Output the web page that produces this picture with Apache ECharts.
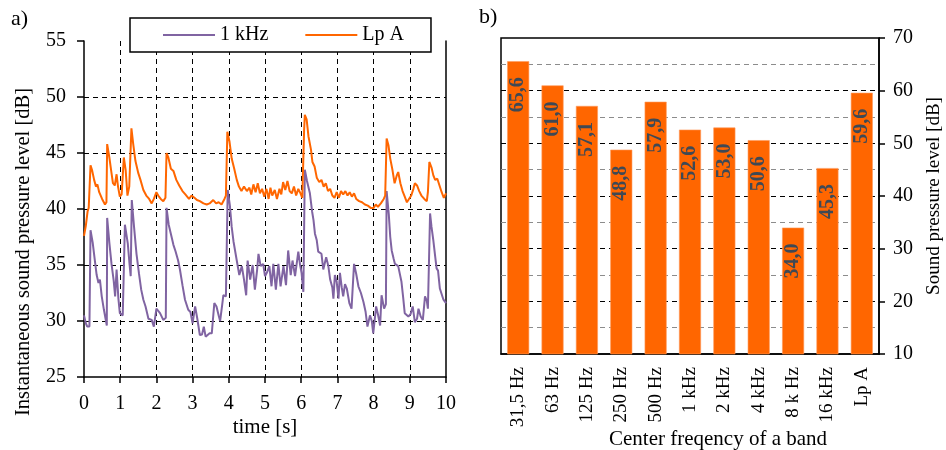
<!DOCTYPE html>
<html>
<head>
<meta charset="utf-8">
<script src="https://cdn.jsdelivr.net/npm/echarts@6/dist/echarts.min.js"></script>
<style>
  html, body { margin: 0; padding: 0; background: #fff; }
  #chart { width: 946px; height: 450px; }
</style>
</head>
<body>
<div id="chart"></div>
<script>
// a) instantaneous levels over 10 s: [time s, level dB]
const lpA = [
  [0,37.6],[0.05,38.5],[0.1,39.8],[0.13,40.1],[0.18,43.9],[0.22,43.5],[0.28,42.6],[0.33,42.0],[0.37,42.2],[0.42,41.5],
  [0.5,40.9],[0.58,40.4],[0.62,40.6],[0.64,45.8],[0.7,44.6],[0.76,43.2],[0.8,42.3],[0.85,42.1],[0.9,43.1],[0.94,42.0],
  [0.99,41.1],[1.04,41.3],[1.1,44.6],[1.15,43.5],[1.2,41.2],[1.25,42.0],[1.31,47.2],[1.36,45.8],[1.42,44.3],[1.5,43.2],
  [1.56,42.6],[1.64,41.7],[1.72,41.2],[1.8,40.9],[1.87,40.5],[1.93,40.9],[2.0,41.5],[2.05,41.2],[2.12,40.9],[2.19,40.7],
  [2.25,41.0],[2.28,45.0],[2.33,44.6],[2.4,43.6],[2.47,43.4],[2.55,42.6],[2.63,42.1],[2.72,41.6],[2.8,41.3],[2.9,40.9],
  [2.97,41.2],[3.05,41.0],[3.12,40.8],[3.2,40.7],[3.3,40.5],[3.39,40.4],[3.47,40.5],[3.57,40.8],[3.65,40.5],[3.72,40.6],
  [3.8,40.4],[3.88,40.9],[3.92,41.2],[3.96,46.9],[4.02,46.0],[4.08,44.5],[4.15,43.6],[4.22,42.6],[4.28,42.0],[4.35,41.6],
  [4.42,42.0],[4.5,41.6],[4.57,41.9],[4.62,41.3],[4.68,42.2],[4.74,41.5],[4.8,42.3],[4.86,41.4],[4.92,41.8],[4.98,41.1],
  [5.04,41.8],[5.1,40.9],[5.15,41.9],[5.2,41.2],[5.27,41.7],[5.33,40.9],[5.4,41.8],[5.45,41.3],[5.5,42.4],[5.56,41.7],
  [5.62,42.5],[5.68,41.6],[5.74,41.4],[5.8,42.0],[5.86,41.2],[5.92,41.8],[5.98,41.4],[6.03,41.0],[6.08,47.0],[6.1,48.4],
  [6.15,48.0],[6.2,46.5],[6.27,45.3],[6.31,44.2],[6.37,43.8],[6.43,42.8],[6.5,42.4],[6.56,42.6],[6.62,42.0],[6.68,42.3],
  [6.74,41.6],[6.8,41.8],[6.86,41.2],[6.92,41.0],[6.98,41.5],[7.04,41.0],[7.1,41.6],[7.16,41.3],[7.22,41.6],[7.28,41.2],
  [7.34,41.5],[7.4,41.1],[7.46,41.4],[7.52,40.9],[7.6,40.7],[7.68,40.6],[7.76,40.4],[7.84,40.3],[7.92,40.1],[8.0,40.1],
  [8.06,40.4],[8.12,40.2],[8.2,40.5],[8.28,40.9],[8.32,41.2],[8.36,46.3],[8.41,45.7],[8.46,44.5],[8.52,43.5],[8.58,42.3],
  [8.64,43.0],[8.68,43.3],[8.74,42.3],[8.8,41.6],[8.86,41.1],[8.92,40.6],[8.97,40.5],[9.04,41.2],[9.1,41.8],[9.14,42.3],
  [9.2,42.1],[9.26,41.6],[9.32,41.2],[9.4,40.9],[9.47,40.7],[9.5,41.5],[9.54,44.2],[9.6,43.7],[9.65,43.0],[9.7,42.6],
  [9.76,42.7],[9.82,42.1],[9.88,41.5],[9.94,41.0],[10.0,41.4]
];

const band1k = [
  [0,30.5],[0.05,29.8],[0.09,29.5],[0.15,29.5],[0.18,38.1],[0.24,37.0],[0.3,35.4],[0.35,34.1],[0.4,33.4],[0.44,33.7],
  [0.49,32.2],[0.55,31.0],[0.63,29.6],[0.64,39.2],[0.7,37.0],[0.76,35.1],[0.82,33.6],[0.86,32.2],[0.9,34.6],[0.95,32.0],
  [0.99,30.7],[1.07,30.5],[1.13,38.6],[1.21,36.9],[1.26,35.0],[1.29,34.0],[1.32,40.8],[1.38,38.5],[1.45,36.0],[1.52,34.2],
  [1.58,32.8],[1.64,31.9],[1.7,31.3],[1.78,30.2],[1.87,30.1],[1.93,29.5],[2.0,31.1],[2.05,30.9],[2.1,30.7],[2.15,30.6],
  [2.19,30.1],[2.26,30.3],[2.28,40.1],[2.34,38.6],[2.42,37.5],[2.47,36.8],[2.53,36.2],[2.6,35.4],[2.65,34.6],[2.72,33.2],
  [2.79,31.9],[2.88,31.0],[2.94,30.8],[3.0,29.8],[3.07,31.3],[3.13,30.2],[3.2,28.75],[3.26,28.8],[3.31,29.5],[3.36,28.6],
  [3.41,28.45],[3.47,28.9],[3.53,28.9],[3.6,31.6],[3.66,31.3],[3.72,30.5],[3.76,30.0],[3.82,31.5],[3.85,32.3],[3.92,32.2],
  [3.97,41.7],[4.03,40.3],[4.08,38.4],[4.13,37.1],[4.18,37.0],[4.22,35.4],[4.29,34.1],[4.36,34.9],[4.42,33.7],[4.48,32.3],
  [4.52,35.4],[4.59,33.7],[4.66,35.0],[4.72,32.8],[4.78,34.5],[4.82,36.0],[4.88,34.9],[4.95,35.1],[5.0,34.0],[5.05,34.3],
  [5.12,34.9],[5.18,33.1],[5.23,35.1],[5.3,32.8],[5.37,35.1],[5.43,33.1],[5.51,34.9],[5.58,33.2],[5.64,36.3],[5.71,34.1],
  [5.76,35.4],[5.83,34.0],[5.92,36.2],[5.97,35.0],[6.01,34.3],[6.06,32.6],[6.1,43.5],[6.16,42.5],[6.24,41.4],[6.3,39.8],
  [6.34,39.0],[6.38,37.8],[6.43,37.2],[6.47,36.2],[6.56,36.0],[6.61,34.6],[6.69,35.7],[6.75,34.9],[6.8,33.7],[6.86,33.0],
  [6.89,32.0],[6.93,34.1],[6.98,33.5],[7.03,32.0],[7.07,34.3],[7.12,33.0],[7.16,32.2],[7.21,33.3],[7.26,32.9],[7.33,31.6],
  [7.39,31.1],[7.46,35.1],[7.52,34.2],[7.58,33.1],[7.65,32.5],[7.72,31.7],[7.78,30.8],[7.83,29.5],[7.9,30.5],[7.95,30.0],
  [7.99,28.9],[8.07,31.3],[8.12,30.6],[8.18,29.6],[8.22,32.3],[8.29,31.1],[8.34,31.5],[8.36,41.6],[8.42,39.5],[8.46,37.5],
  [8.5,36.3],[8.55,35.6],[8.59,35.1],[8.68,34.9],[8.77,33.5],[8.82,32.0],[8.86,30.7],[8.96,30.4],[9.02,30.6],[9.08,31.3],
  [9.14,29.9],[9.2,30.2],[9.24,31.1],[9.3,30.4],[9.36,30.1],[9.42,32.2],[9.47,31.8],[9.5,31.1],[9.56,39.6],[9.6,38.4],
  [9.65,37.2],[9.7,35.8],[9.74,34.7],[9.78,34.5],[9.83,32.9],[9.93,31.9],[10,31.6]
];

// b) band levels
const bands = ['31,5 Hz','63 Hz','125 Hz','250 Hz','500 Hz','1 kHz','2 kHz','4 kHz','8 k Hz','16 kHz','Lp A'];
const bandLevels = [65.6, 61.0, 57.1, 48.8, 57.9, 52.6, 53.0, 50.6, 34.0, 45.3, 59.6];

const FONT = 'Liberation Serif';
const ORANGE = '#FF6600';
const PURPLE = '#8064A2';

const chart = echarts.init(document.getElementById('chart'), null, { renderer: 'canvas' });

const dashed = { show: true, lineStyle: { color: '#000', type: [5, 4], width: 1 } };
const axisTxt = { fontFamily: FONT, fontSize: 20, color: '#000' };

chart.setOption({
  animation: false,
  backgroundColor: '#fff',
  textStyle: { fontFamily: FONT },
  graphic: [
    { type: 'text', left: 11, top: 8, style: { text: 'a)', font: '22px "Liberation Serif"', fill: '#000' } },
    { type: 'text', left: 479, top: 6, style: { text: 'b)', font: '22px "Liberation Serif"', fill: '#000' } },
    // left panel y title, set lower than the plot centre
    { type: 'text', x: 24, y: 252, rotation: Math.PI / 2,
      style: { text: 'Instantaneous sound pressure level [dB]', font: '20.5px "Liberation Serif"',
               fill: '#000', align: 'center', verticalAlign: 'middle' } },
    // right panel x title, set right of the plot centre
    { type: 'text', x: 718, y: 439,
      style: { text: 'Center freqency of a band', font: '21px "Liberation Serif"',
               fill: '#000', align: 'center', verticalAlign: 'middle' } }
  ],
  legend: {
    left: 130, top: 18,
    padding: [7, 27, 7, 33],
    itemGap: 37,
    icon: 'rect',
    itemWidth: 52, itemHeight: 2,
    backgroundColor: '#fff',
    borderColor: '#000', borderWidth: 1.5,
    textStyle: { fontFamily: FONT, fontSize: 20, color: '#000' },
    data: ['1 kHz', 'Lp A']
  },
  grid: [
    { left: 84, right: 500, top: 41, bottom: 73, outerBoundsMode: 'none' },
    { left: 501, right: 67, top: 38, bottom: 96, outerBoundsMode: 'none',
      show: true, borderColor: '#000', borderWidth: 1.5, backgroundColor: 'transparent' }
  ],
  xAxis: [
    {
      gridIndex: 0, type: 'value', min: 0, max: 10, interval: 1,
      name: 'time [s]', nameLocation: 'middle', nameGap: 40, nameMoveOverlap: false,
      nameTextStyle: Object.assign({}, axisTxt, { fontSize: 21 }),
      axisLine: { show: true, onZero: false, lineStyle: { color: '#000', width: 1.5 } },
      axisTick: { show: true, length: 6, lineStyle: { color: '#000', width: 1.5 } },
      axisLabel: Object.assign({ margin: 17 }, axisTxt),
      splitLine: Object.assign({ showMinLine: false, showMaxLine: false }, dashed)
    },
    {
      gridIndex: 1, type: 'category', data: bands,
      axisLine: { show: true, lineStyle: { color: '#000', width: 1.5 } },
      axisTick: { show: false },
      axisLabel: Object.assign({ rotate: 90, margin: 13, interval: 0 }, axisTxt, { fontSize: 19 }),
      splitLine: { show: false }
    }
  ],
  yAxis: [
    {
      gridIndex: 0, type: 'value', min: 25, max: 55, interval: 5,
      axisLine: { show: true, lineStyle: { color: '#000', width: 1.5 } },
      axisTick: { show: true, length: 7, lineStyle: { color: '#000', width: 1.5 } },
      axisLabel: Object.assign({ margin: 18 }, axisTxt),
      splitLine: Object.assign({ showMinLine: false, showMaxLine: false }, dashed)
    },
    {
      gridIndex: 0, type: 'value', position: 'right', min: 25, max: 55, interval: 5,
      axisLine: { show: true, lineStyle: { color: '#000', width: 1.5 } },
      axisTick: { show: false }, axisLabel: { show: false }, splitLine: { show: false }
    },
    {
      gridIndex: 1, type: 'value', position: 'right', min: 10, max: 70, interval: 10,
      name: 'Sound pressure level [dB]', nameLocation: 'middle', nameGap: 46, nameRotate: 90,
      nameMoveOverlap: false,
      nameTextStyle: Object.assign({}, axisTxt, { fontSize: 19 }),
      axisLine: { show: true, lineStyle: { color: '#000', width: 1.5 } },
      axisTick: { show: true, length: 6, lineStyle: { color: '#000', width: 1.5 } },
      axisLabel: Object.assign({ margin: 14 }, axisTxt),
      splitLine: Object.assign({ showMinLine: false, showMaxLine: false }, dashed),
      minorTick: { show: false, splitNumber: 2 },
      minorSplitLine: { show: true, lineStyle: { color: '#8c8c8c', type: [5, 4], width: 1 } }
    }
  ],
  series: [
    {
      name: '1 kHz', type: 'line', xAxisIndex: 0, yAxisIndex: 0,
      data: band1k, symbol: 'none', smooth: false,
      lineStyle: { color: PURPLE, width: 2 }, itemStyle: { color: PURPLE }
    },
    {
      name: 'Lp A', type: 'line', xAxisIndex: 0, yAxisIndex: 0,
      data: lpA, symbol: 'none', smooth: false,
      lineStyle: { color: ORANGE, width: 2 }, itemStyle: { color: ORANGE }
    },
    {
      name: 'band', type: 'bar', xAxisIndex: 1, yAxisIndex: 2,
      data: bandLevels, barWidth: 22,
      itemStyle: { color: ORANGE, borderColor: '#ff9a5c', borderWidth: 0.6 },
      label: {
        show: true, position: 'insideTop', distance: 16, rotate: 90,
        align: 'right', verticalAlign: 'middle',
        fontFamily: FONT, fontSize: 20, fontWeight: 'bold', color: '#3e4955',
        formatter: p => p.value.toFixed(1).replace('.', ',')
      }
    }
  ]
});
</script>
</body>
</html>
